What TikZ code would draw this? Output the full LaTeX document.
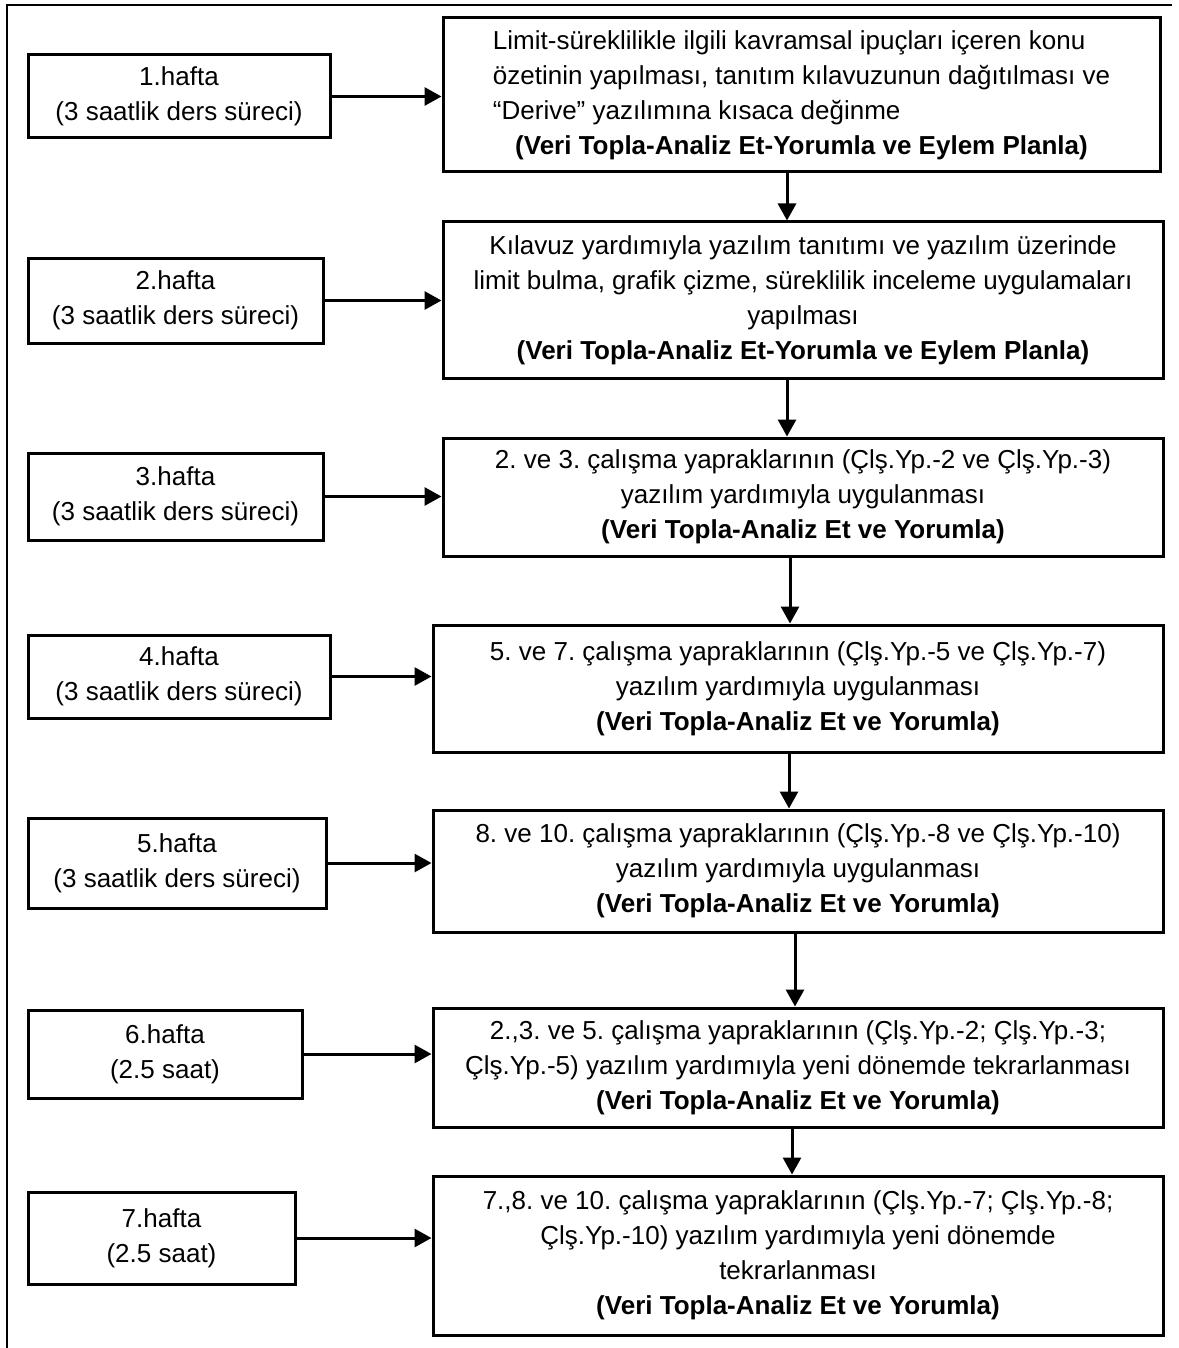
\documentclass[tikz,border=0pt]{standalone}
\usepackage{fontspec}
\setmainfont{Liberation Sans}
\frenchspacing
\usetikzlibrary{arrows.meta}
\tikzset{
  box/.style={draw, line width=3pt, inner sep=0pt, align=center,
    font=\fontsize{26}{35}\selectfont},
  arr/.style={line width=3pt, -{Triangle[length=17pt,width=18pt]}},
  frame/.style={line width=1.5pt}
}
\begin{document}
\begin{tikzpicture}[x=1pt,y=-1pt]
\useasboundingbox (0,0) rectangle (1178,1348);
% outer frame: top and left rules
\coordinate (fTL) at (7,5);
\coordinate (fTR) at (1172,5);
\coordinate (fBL) at (7,1348);
\draw[frame] (fTR) -- (fTL) -- (fBL);

% week boxes
\node[box, minimum width=302pt, minimum height=83pt] (l1) at (179,96.5) {1.hafta\\(3 saatlik ders süreci)};
\node[box, minimum width=295pt, minimum height=85pt] (l2) at (175.5,300.5) {2.hafta\\(3 saatlik ders süreci)};
\node[box, minimum width=295pt, minimum height=87pt] (l3) at (175.5,496.5) {3.hafta\\(3 saatlik ders süreci)};
\node[box, minimum width=302pt, minimum height=83pt] (l4) at (179,676.5) {4.hafta\\(3 saatlik ders süreci)};
\node[box, minimum width=298pt, minimum height=90pt] (l5) at (177,863) {5.hafta\\(3 saatlik ders süreci)};
\node[box, minimum width=274pt, minimum height=88pt] (l6) at (165,1054) {6.hafta\\(2.5 saat)};
\node[box, minimum width=267pt, minimum height=92pt] (l7) at (161.5,1238) {7.hafta\\(2.5 saat)};

% activity boxes
\node[box, minimum width=717pt, minimum height=154pt] (r1) at (801.5,95)
  {\begin{tabular}{@{}l@{}}
   Limit-süreklilikle ilgili kavramsal ipuçları içeren konu\\
   özetinin yapılması, tanıtım kılavuzunun dağıtılması ve\\
   “Derive” yazılımına kısaca değinme\\
   \multicolumn{1}{@{}c@{}}{\textbf{(Veri Topla-Analiz Et-Yorumla ve Eylem Planla)}}
   \end{tabular}};
\node[box, minimum width=720pt, minimum height=156pt] (r2) at (803,300)
  {Kılavuz yardımıyla yazılım tanıtımı ve yazılım üzerinde\\
   limit bulma, grafik çizme, süreklilik inceleme uygulamaları\\
   yapılması\\
   \textbf{(Veri Topla-Analiz Et-Yorumla ve Eylem Planla)}};
\node[box, minimum width=720pt, minimum height=118pt] (r3) at (803,497)
  {2. ve 3. çalışma yapraklarının (Çlş.Yp.-2 ve Çlş.Yp.-3)\\
   yazılım yardımıyla uygulanması\\
   \textbf{(Veri Topla-Analiz Et ve Yorumla)}};
\node[box, minimum width=730pt, minimum height=127pt] (r4) at (798,688.5)
  {5. ve 7. çalışma yapraklarının (Çlş.Yp.-5 ve Çlş.Yp.-7)\\
   yazılım yardımıyla uygulanması\\
   \textbf{(Veri Topla-Analiz Et ve Yorumla)}};
\node[box, minimum width=730pt, minimum height=122pt] (r5) at (798,871)
  {8. ve 10. çalışma yapraklarının (Çlş.Yp.-8 ve Çlş.Yp.-10)\\
   yazılım yardımıyla uygulanması\\
   \textbf{(Veri Topla-Analiz Et ve Yorumla)}};
\node[box, minimum width=730pt, minimum height=119pt] (r6) at (798,1067.5)
  {2.,3. ve 5. çalışma yapraklarının (Çlş.Yp.-2; Çlş.Yp.-3;\\
   Çlş.Yp.-5) yazılım yardımıyla yeni dönemde tekrarlanması\\
   \textbf{(Veri Topla-Analiz Et ve Yorumla)}};
\node[box, minimum width=730pt, minimum height=159pt] (r7) at (798,1255.5)
  {7.,8. ve 10. çalışma yapraklarının (Çlş.Yp.-7; Çlş.Yp.-8;\\
   Çlş.Yp.-10) yazılım yardımıyla yeni dönemde\\
   tekrarlanması\\
   \textbf{(Veri Topla-Analiz Et ve Yorumla)}};

% week -> activity
\foreach \i in {1,...,7}
  \draw[arr] (l\i.east) -- (r\i.west |- l\i.east);

% activity -> next activity
\draw[arr] ([xshift=-14.5pt]r1.south) -- ([xshift=-14.5pt]r1.south |- r2.north);
\draw[arr] ([xshift=-16pt]r2.south) -- ([xshift=-16pt]r2.south |- r3.north);
\draw[arr] ([xshift=-13pt]r3.south) -- ([xshift=-13pt]r3.south |- r4.north);
\draw[arr] ([xshift=-9pt]r4.south) -- ([xshift=-9pt]r4.south |- r5.north);
\draw[arr] ([xshift=-3pt]r5.south) -- ([xshift=-3pt]r5.south |- r6.north);
\draw[arr] ([xshift=-6pt]r6.south) -- ([xshift=-6pt]r6.south |- r7.north);
\end{tikzpicture}
\end{document}
